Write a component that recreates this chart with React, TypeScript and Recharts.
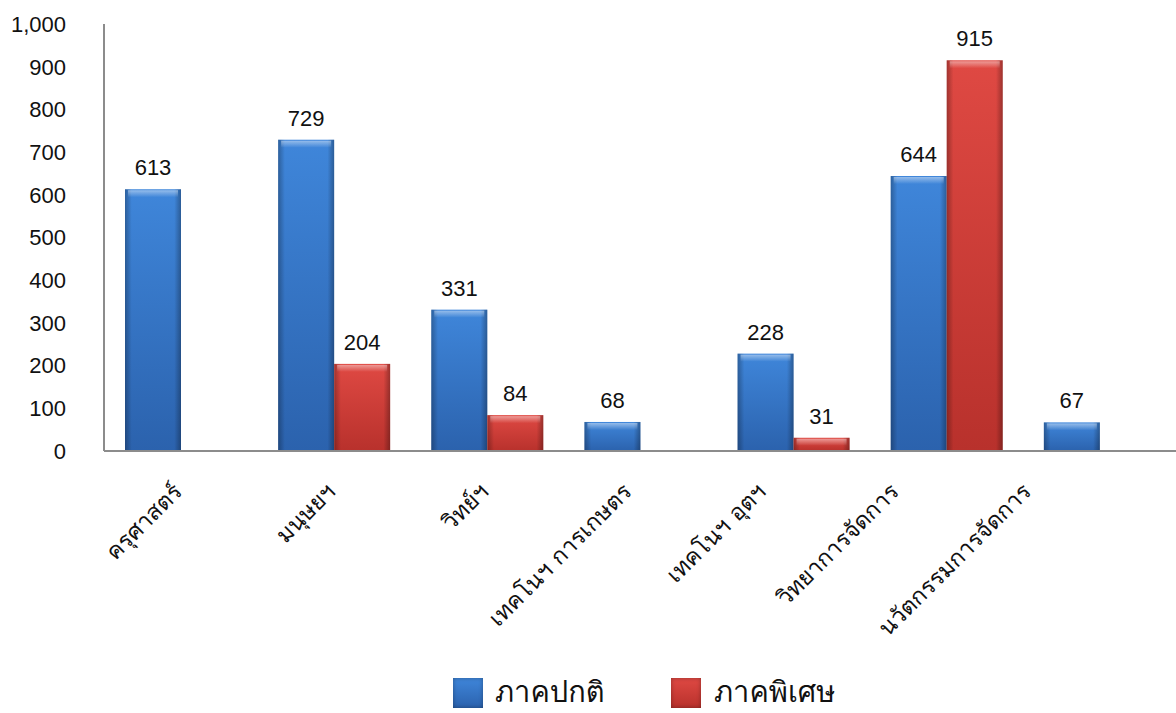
import React from "react";
import {
  BarChart,
  Bar,
  XAxis,
  YAxis,
  Legend,
  LabelList,
} from "recharts";

const categories = [
  "ครุศาสตร์",
  "มนุษยฯ",
  "วิทย์ฯ",
  "เทคโนฯ การเกษตร",
  "เทคโนฯ อุตฯ",
  "วิทยาการจัดการ",
  "นวัตกรรมการจัดการ",
];
const regular = [613, 729, 331, 68, 228, 644, 67];
const special = [null, 204, 84, null, 31, 915, null];
const yTicks = [0, 100, 200, 300, 400, 500, 600, 700, 800, 900, 1000];

// the source chart nudges its longer rotated labels to the left
const LABEL_SHIFT = [0, 0, 0, -10, -29, -49, -70];

const SERIES = [
  { key: "regular", name: "ภาคปกติ", top: "#3f86da", bottom: "#2b62ad", id: "gBlue" },
  { key: "special", name: "ภาคพิเศษ", top: "#df4943", bottom: "#b8312c", id: "gRed" },
];

const data = categories.map((name, i) => ({
  name,
  regular: regular[i],
  special: special[i],
}));

const THAI_FONT =
  "Loma, Garuda, Laksaman, Kinnari, Norasi, 'Noto Sans Thai', 'Noto Sans', sans-serif";
const NUM_FONT = "'Liberation Sans', Arial, sans-serif";
const FONT_SIZE = 22;

function GlossyBar(props: any) {
  const { x, y, width, height, gid } = props;
  if (!height || height <= 0) return null;
  const hi = Math.min(7, height);
  return (
    <g>
      <rect x={x} y={y} width={width} height={height} fill={`url(#${gid})`} />
      <rect x={x} y={y} width={width} height={height} fill="url(#edgeShade)" />
      <rect x={x + 3} y={y + 1} width={width - 6} height={hi} fill="url(#topShine)" />
    </g>
  );
}

function XTick(props: any) {
  const { x, y, payload, index } = props;
  const dx = LABEL_SHIFT[index] || 0;
  return (
    <g transform={`translate(${x + 3 + dx},${y + 34})`}>
      <text
        textAnchor="end"
        transform="rotate(-45)"
        fontSize={23}
        fontFamily={THAI_FONT}
        fill="#111"
      >
        {payload.value}
      </text>
    </g>
  );
}

function LegendContent() {
  const items = [
    { s: SERIES[0], left: 453, text: 495 },
    { s: SERIES[1], left: 671, text: 714 },
  ];
  return (
    <div style={{ position: "relative", height: 34, width: 1176 }}>
      {items.map(({ s, left, text }) => (
        <React.Fragment key={s.key}>
          <div
            style={{
              position: "absolute",
              left,
              top: 4,
              width: 30,
              height: 30,
              background: `linear-gradient(to bottom, ${s.top}, ${s.bottom})`,
              boxShadow: "inset 0 0 4px rgba(0,0,0,0.35)",
            }}
          />
          <span
            style={{
              position: "absolute",
              left: text,
              top: -5,
              fontSize: 29,
              fontFamily: THAI_FONT,
              color: "#111",
              whiteSpace: "nowrap",
            }}
          >
            {s.name}
          </span>
        </React.Fragment>
      ))}
    </div>
  );
}

export default function App() {
  return (
    <div style={{ position: "absolute", left: 0, top: 0, background: "#fff" }}>
      <BarChart
        width={1176}
        height={713}
        data={data}
        margin={{ top: 24, right: 0, bottom: 0, left: 0 }}
        barGap={0}
        barSize={56}
      >
        <defs>
          {SERIES.map((s) => (
            <linearGradient key={s.id} id={s.id} x1="0" y1="0" x2="0" y2="1">
              <stop offset="0%" stopColor={s.top} />
              <stop offset="100%" stopColor={s.bottom} />
            </linearGradient>
          ))}
          <linearGradient id="edgeShade" x1="0" y1="0" x2="1" y2="0">
            <stop offset="0%" stopColor="#000" stopOpacity={0.28} />
            <stop offset="12%" stopColor="#000" stopOpacity={0} />
            <stop offset="88%" stopColor="#000" stopOpacity={0} />
            <stop offset="100%" stopColor="#000" stopOpacity={0.3} />
          </linearGradient>
          <linearGradient id="topShine" x1="0" y1="0" x2="0" y2="1">
            <stop offset="0%" stopColor="#fff" stopOpacity={0.45} />
            <stop offset="100%" stopColor="#fff" stopOpacity={0} />
          </linearGradient>
        </defs>
        <XAxis
          dataKey="name"
          height={262}
          interval={0}
          tickLine={false}
          axisLine={{ stroke: "#8c8c8c", strokeWidth: 2 }}
          tick={<XTick />}
        />
        <YAxis
          width={104}
          domain={[0, 1000]}
          ticks={yTicks}
          interval={0}
          tickLine={false}
          tickSize={0}
          tickMargin={38}
          axisLine={{ stroke: "#8c8c8c", strokeWidth: 2 }}
          tickFormatter={(v: number) => v.toLocaleString("en-US")}
          tick={{ fontSize: FONT_SIZE, fontFamily: NUM_FONT, fill: "#111" }}
        />
        <Legend
          layout="horizontal"
          verticalAlign="middle"
          align="center"
          wrapperStyle={{ top: 674, left: 0, width: 1176 }}
          content={<LegendContent />}
        />
        {SERIES.map((s) => (
          <Bar
            key={s.key}
            dataKey={s.key}
            name={s.name}
            fill={s.top}
            isAnimationActive={false}
            shape={(p: any) => <GlossyBar {...p} gid={s.id} />}
          >
            <LabelList
              dataKey={s.key}
              position="top"
              offset={14}
              fontSize={FONT_SIZE}
              fontFamily={NUM_FONT}
              fill="#111"
            />
          </Bar>
        ))}
      </BarChart>
    </div>
  );
}
